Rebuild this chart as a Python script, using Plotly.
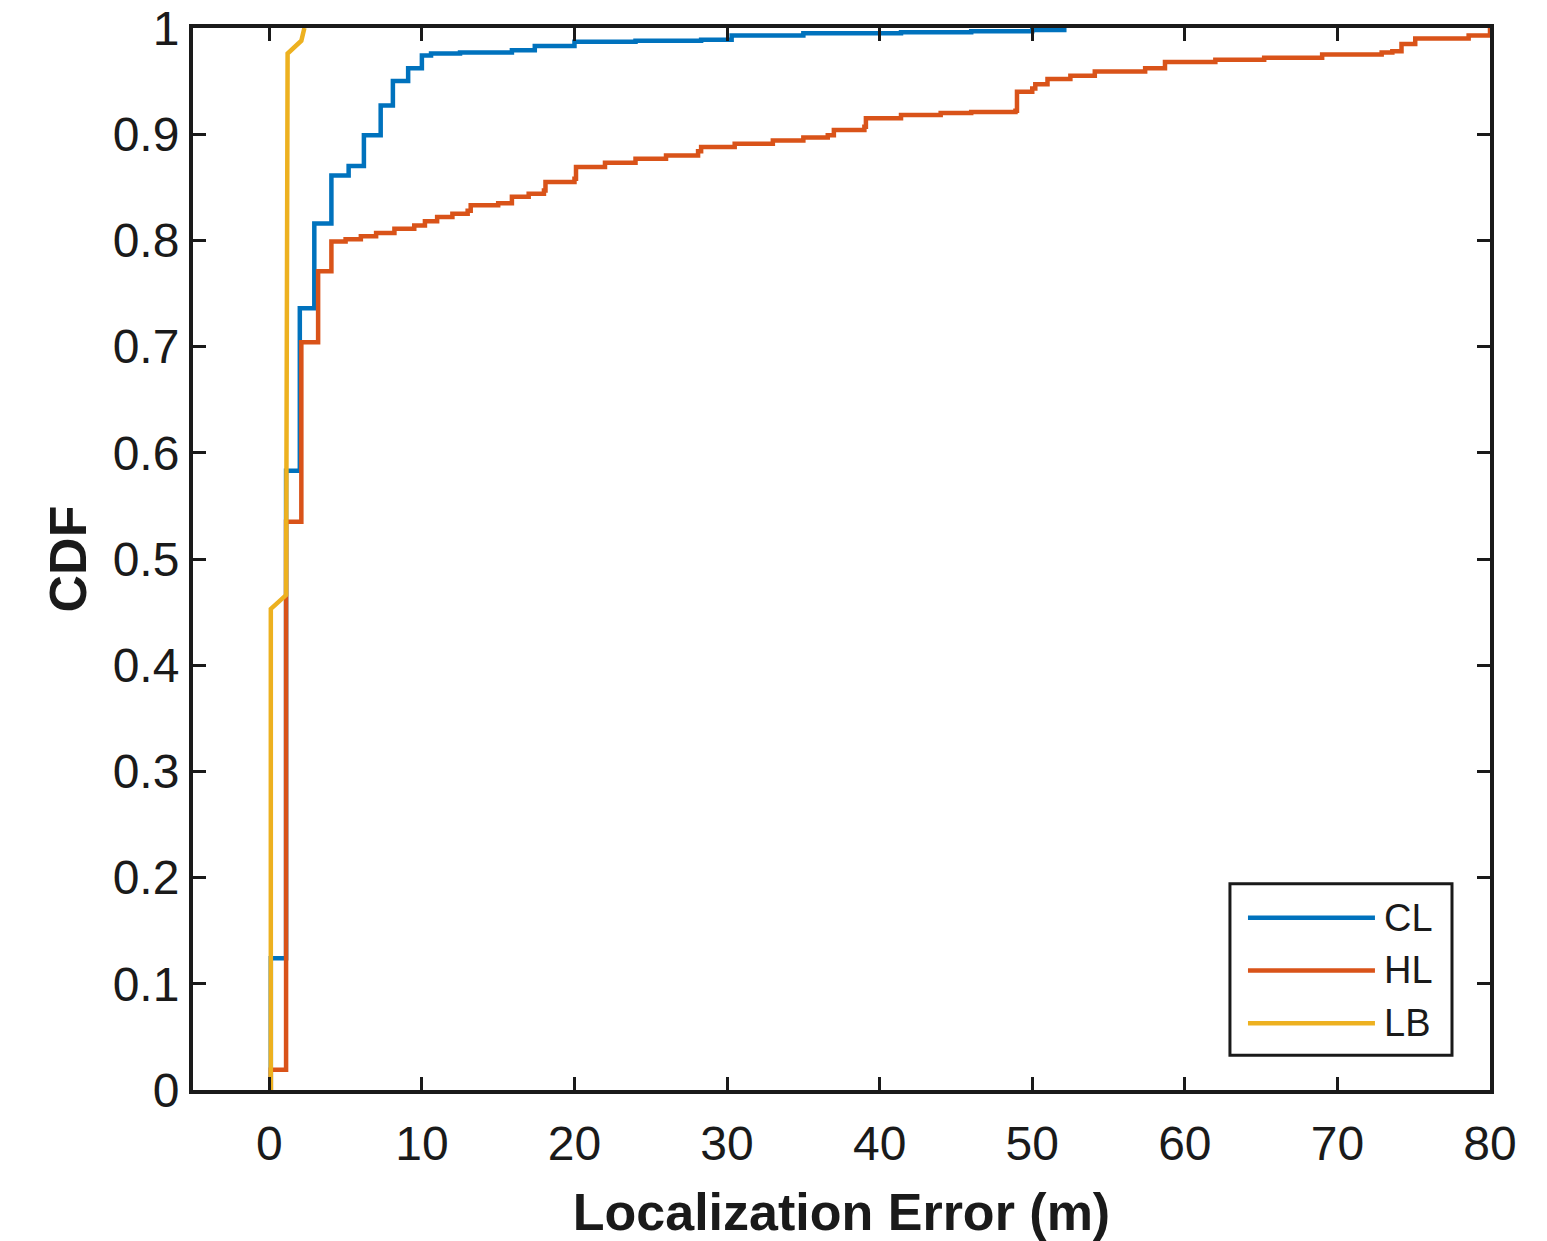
import plotly.graph_objects as go

# ---------------- data ----------------
series_names = ["CL", "HL", "LB"]
series_colors = ["#0072BD", "#D95319", "#EDB120"]

# empirical CDF step points: (error where step happens, CDF value after step)
cl_x = [0.1, 0.1, 1.1, 2.0, 2.95, 4.07, 5.2, 6.2, 7.3, 8.1, 9.1, 10.0, 10.6, 12.5,
        15.9, 17.4, 20.0, 24.0, 28.3, 30.3, 35.0, 41.4, 46.0, 50.0, 52.1]
cl_y = [0.0, 0.124, 0.583, 0.736, 0.816, 0.861, 0.870, 0.899, 0.927, 0.950, 0.962,
        0.974, 0.976, 0.977, 0.979, 0.983, 0.987, 0.988, 0.989, 0.993, 0.995, 0.996,
        0.997, 0.998, 1.0]

hl_x = [0.1, 0.1, 1.1, 2.1, 3.2, 4.07, 5.0, 6.0, 7.0, 8.2, 9.5, 10.2, 11.0, 12.0,
        13.0, 13.2, 15.0, 15.9, 17.0, 18.0, 18.1, 20.0, 20.1, 22.0, 24.0, 26.0, 28.1,
        28.3, 30.5, 33.0, 35.0, 36.6, 37.0, 39.0, 39.1, 41.4, 44.0, 46.0, 48.9, 49.0,
        50.0, 50.2, 51.0, 52.5, 54.1, 57.4, 58.7, 62.0, 65.2, 69.0, 72.9, 73.6, 74.2,
        75.1, 78.6, 80.0]
hl_y = [0.0, 0.019, 0.535, 0.704, 0.771, 0.799, 0.801, 0.804, 0.807, 0.811, 0.814,
        0.818, 0.822, 0.825, 0.828, 0.833, 0.835, 0.841, 0.844, 0.847, 0.855, 0.858,
        0.869, 0.873, 0.877, 0.880, 0.884, 0.888, 0.891, 0.894, 0.897, 0.899, 0.904,
        0.907, 0.915, 0.918, 0.920, 0.921, 0.922, 0.940, 0.943, 0.947, 0.952, 0.955,
        0.959, 0.962, 0.968, 0.970, 0.972, 0.975, 0.977, 0.978, 0.985, 0.990, 0.993,
        1.0]

lb_x = [0.1, 0.1, 1.1, 1.2, 2.1, 2.3]
lb_y = [0.0, 0.453, 0.466, 0.976, 0.988, 1.0]

x_ticks = [0, 10, 20, 30, 40, 50, 60, 70, 80]
y_ticks = [0, 0.1, 0.2, 0.3, 0.4, 0.5, 0.6, 0.7, 0.8, 0.9, 1.0]
y_tick_labels = ["0", "0.1", "0.2", "0.3", "0.4", "0.5", "0.6", "0.7", "0.8", "0.9", "1"]

x_title = "Localization Error (m)"
y_title = "CDF"

# ---------------- figure ----------------
FONT = "Liberation Sans, Arial, Helvetica, sans-serif"
AX = "#1a1a1a"

fig = go.Figure()
series = [(cl_x, cl_y, "hv"), (hl_x, hl_y, "hv"), (lb_x, lb_y, "linear")]
for (xs, ys, shp), name, col in zip(series, series_names, series_colors):
    fig.add_trace(go.Scatter(x=xs, y=ys, mode="lines", name=name,
                             line=dict(color=col, width=4.5, shape=shp),
                             showlegend=False))

axis_common = dict(showgrid=False, zeroline=False, showline=True, linecolor=AX,
                   linewidth=4, mirror="ticks", ticks="inside", ticklen=13,
                   tickwidth=3, tickcolor=AX, ticklabeloverflow="allow",
                   tickfont=dict(family=FONT, size=48, color=AX))

fig.update_xaxes(range=[-5, 80], tickvals=x_ticks, ticklabelstandoff=8,
                 title=dict(text=x_title, standoff=26,
                            font=dict(family=FONT, size=52, color=AX, weight="bold")),
                 **axis_common)
fig.update_yaxes(range=[0, 1], tickvals=y_ticks, ticktext=y_tick_labels,
                 ticklabelstandoff=0,
                 title=dict(text=y_title, standoff=10,
                            font=dict(family=FONT, size=52, color=AX, weight="bold")),
                 **axis_common)

# legend box drawn in paper coordinates
lg_x0, lg_x1, lg_y0, lg_y1 = 0.7995, 0.9707, 0.0328, 0.1942
line_x0, line_x1, text_x = 0.8134, 0.9113, 0.917
row_y = [0.1623, 0.1126, 0.0629]
fig.add_shape(type="rect", xref="paper", yref="paper", x0=lg_x0, x1=lg_x1,
              y0=lg_y0, y1=lg_y1, line=dict(color=AX, width=3), fillcolor="white",
              layer="above")
for name, col, ry in zip(series_names, series_colors, row_y):
    fig.add_shape(type="line", xref="paper", yref="paper", x0=line_x0, x1=line_x1,
                  y0=ry, y1=ry, line=dict(color=col, width=4.5), layer="above")
    fig.add_annotation(xref="paper", yref="paper", x=text_x, y=ry, text=name,
                       showarrow=False, xanchor="left", yanchor="middle",
                       font=dict(family=FONT, size=38, color=AX))

fig.update_layout(width=1547, height=1241, plot_bgcolor="white", paper_bgcolor="white",
                  margin=dict(l=193, r=57, t=28, b=151, autoexpand=False),
                  showlegend=False)

fig.write_html("out.html")
